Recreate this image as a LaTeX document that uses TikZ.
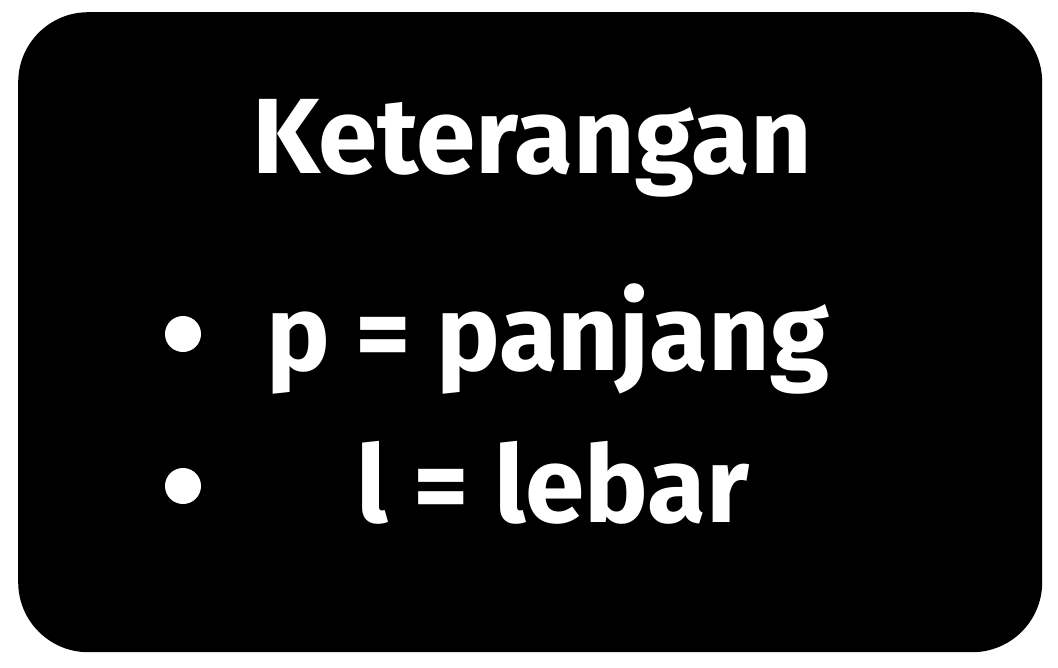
\documentclass[tikz,border=0pt]{standalone}
\usepackage{fontspec}
\setmainfont{Fira Sans}[BoldFont={Fira Sans Bold}]
\begin{document}
\begin{tikzpicture}[x=1pt,y=-1pt,
  txt/.style={text=white,font=\fontsize{107}{107}\selectfont\bfseries,inner sep=0pt},
  dot/.style={circle,fill=white,minimum size=36pt,inner sep=0pt}]
\useasboundingbox[fill=white] (0,0) rectangle (1058,667);
\node[fill=black,rounded corners=70pt,minimum width=1024pt,minimum height=640pt,inner sep=0pt,anchor=north west] (box) at (18,12) {};
\node[txt,anchor=base] (title) at (532,173) {Keterangan};
\node[txt,anchor=base west] (l1) at (266,370) {p = panjang};
\node[txt,anchor=base west] (l2) at (356,522) {l = lebar};
\node[dot] (b1) at (183,334) {};
\node[dot] (b2) at (183,486) {};
\end{tikzpicture}
\end{document}
